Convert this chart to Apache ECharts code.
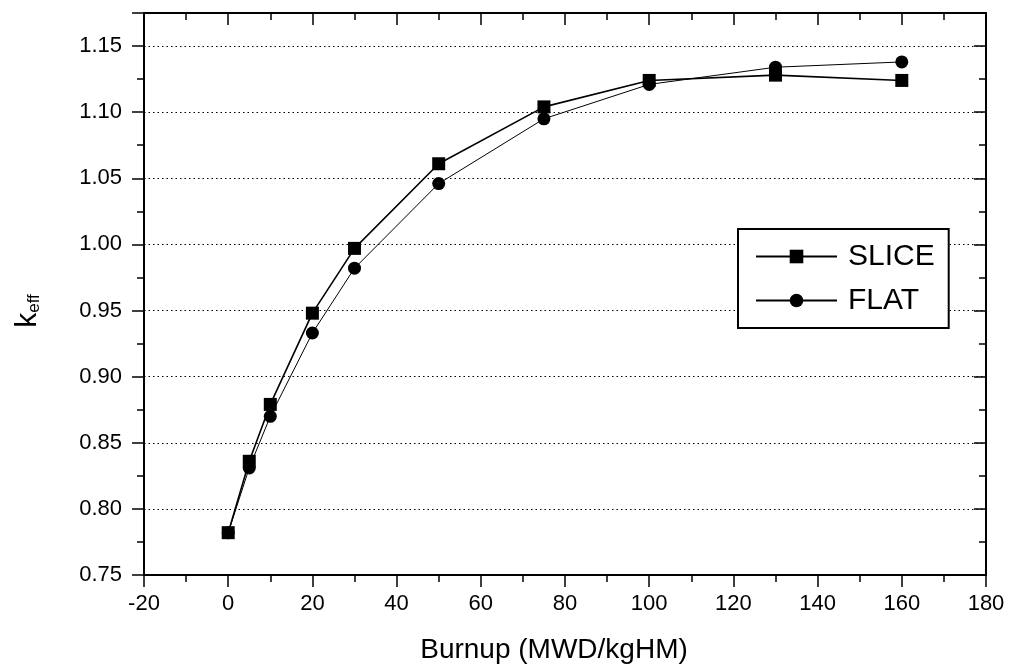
<!DOCTYPE html>
<html>
<head>
<meta charset="utf-8">
<script src="https://cdn.jsdelivr.net/npm/echarts@6/dist/echarts.min.js"></script>
<style>
html,body{margin:0;padding:0;background:#fff;}
#chart{width:1009px;height:669px;}
</style>
</head>
<body>
<div id="chart"></div>
<script>
const burnup = [0, 5, 10, 20, 30, 50, 75, 100, 130, 160];
const sliceK = [0.782, 0.836, 0.879, 0.948, 0.997, 1.061, 1.104, 1.124, 1.128, 1.124];
const flatK  = [0.782, 0.831, 0.870, 0.933, 0.982, 1.046, 1.095, 1.121, 1.134, 1.138];
const seriesNames = ['SLICE', 'FLAT'];
const xTitle = 'Burnup (MWD/kgHM)';

const FONT = 'Liberation Sans, Arial, sans-serif';
const chart = echarts.init(document.getElementById('chart'), null, {renderer: 'canvas'});

function pairs(xs, ys){ return xs.map((x,i)=>[x, ys[i]]); }

const axisCommonX = {
  type: 'value', min: -20, max: 180, interval: 20
};
const axisCommonY = {
  type: 'value', min: 0.75, max: 1.175, interval: 0.05
};

const option = {
  backgroundColor: '#fff',
  animation: false,
  grid: {left: 144, right: 23, top: 13, bottom: 94, containLabel: false},
  xAxis: [
    Object.assign({}, axisCommonX, {
      position: 'bottom',
      axisLine: {show: true, lineStyle: {color: '#000', width: 2}},
      axisTick: {show: true, inside: false, length: 12, lineStyle: {color: '#000', width: 1.5}},
      minorTick: {show: true, splitNumber: 2, length: 7, lineStyle: {color: '#000', width: 1.5}},
      axisLabel: {show: true, margin: 18, color: '#000', fontSize: 22, fontFamily: FONT},
      splitLine: {show: false}
    }),
    Object.assign({}, axisCommonX, {
      position: 'top',
      axisLine: {show: true, onZero: false, lineStyle: {color: '#000', width: 2}},
      axisTick: {show: true, inside: true, length: 12, lineStyle: {color: '#000', width: 1.5}},
      minorTick: {show: true, splitNumber: 2, length: 7, lineStyle: {color: '#000', width: 1.5}},
      axisLabel: {show: false},
      splitLine: {show: false}
    })
  ],
  yAxis: [
    Object.assign({}, axisCommonY, {
      position: 'left',
      axisLine: {show: true, onZero: false, lineStyle: {color: '#000', width: 2}},
      axisTick: {show: true, inside: false, length: 12, lineStyle: {color: '#000', width: 1.5}},
      minorTick: {show: true, splitNumber: 2, length: 7, lineStyle: {color: '#000', width: 1.5}},
      axisLabel: {show: true, margin: 22, color: '#000', fontSize: 22, fontFamily: FONT,
        showMaxLabel: false,
        formatter: v => v.toFixed(2)},
      splitLine: {show: true, lineStyle: {color: '#000', width: 1, type: [1.5, 3]}}
    }),
    Object.assign({}, axisCommonY, {
      position: 'right',
      axisLine: {show: true, onZero: false, lineStyle: {color: '#000', width: 2}},
      axisTick: {show: true, inside: true, length: 12, lineStyle: {color: '#000', width: 1.5}},
      minorTick: {show: true, splitNumber: 2, length: 7, lineStyle: {color: '#000', width: 1.5}},
      axisLabel: {show: false},
      splitLine: {show: false}
    })
  ],
  legend: {
    orient: 'vertical',
    left: 738, top: 229,
    padding: [12, 14, 12, 17],
    borderColor: '#000', borderWidth: 2,
    backgroundColor: '#fff',
    itemWidth: 81, itemHeight: 17, itemGap: 13,
    data: [seriesNames[0], seriesNames[1]],
    textStyle: {color: '#000', fontSize: 30, fontFamily: FONT, lineHeight: 31, padding: [0, 0, 0, 6]}
  },
  graphic: [
    {
      type: 'text',
      x: 554, y: 650,
      style: {text: xTitle, fill: '#000', fontSize: 28, fontFamily: FONT, align: 'center', verticalAlign: 'middle'}
    },
    {
      type: 'text',
      x: 28, y: 311,
      rotation: Math.PI / 2,
      style: {
        text: '{k|k}{s|eff}',
        align: 'center', verticalAlign: 'middle',
        rich: {
          k: {fontSize: 30, fontFamily: FONT, fill: '#000', lineHeight: 30, verticalAlign: 'bottom'},
          s: {fontSize: 17, fontFamily: FONT, fill: '#000', lineHeight: 17, verticalAlign: 'bottom', padding: [10, 0, 0, 0]}
        }
      }
    }
  ],
  series: [
    {
      name: seriesNames[1], type: 'line',
      data: pairs(burnup, flatK),
      symbol: 'circle', symbolSize: 13,
      itemStyle: {color: '#000'},
      lineStyle: {color: '#000', width: 1},
      z: 2
    },
    {
      name: seriesNames[0], type: 'line',
      data: pairs(burnup, sliceK),
      symbol: 'rect', symbolSize: 13,
      itemStyle: {color: '#000'},
      lineStyle: {color: '#000', width: 1.6},
      z: 3
    }
  ]
};
chart.setOption(option);
</script>
</body>
</html>
